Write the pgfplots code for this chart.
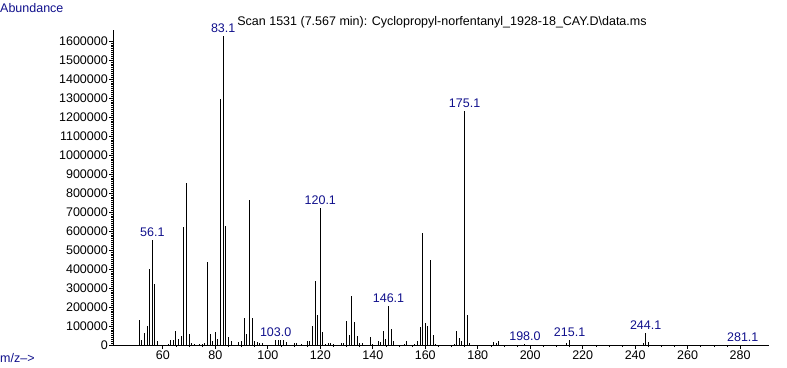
\documentclass[border=0pt]{standalone}
\usepackage{fontspec}
\setmainfont{Liberation Sans}
\usepackage{pgfplots}
\pgfplotsset{compat=1.18}
\definecolor{msnavy}{RGB}{16,16,140}
\begin{document}
\begin{tikzpicture}
\begin{axis}[
  at={(113pt,22pt)}, anchor=south west,
  scale only axis, width=656pt, height=315pt,
  xmin=41, xmax=291, ymin=0, ymax=1658000,
  axis lines=left,
  axis line style={-, line width=0.8pt},
  xtick={60,80,...,280}, minor x tick num=3,
  ytick={0,100000,...,1600000}, minor y tick num=9,
  tick align=outside,
  major tick length=4pt, minor tick length=2pt,
  tick style={black, line width=0.8pt},
  minor tick style={line width=0.6pt},
  scaled y ticks=false,
  /pgf/number format/assume math mode=true,
  yticklabel style={/pgf/number format/fixed, /pgf/number format/1000 sep={}, inner xsep=1pt},
  xticklabel style={/pgf/number format/1000 sep={}, inner ysep=1.5pt},
  tick label style={font=\fontsize{12.5}{14}\selectfont},
  clip=false,
]
\addplot[ycomb, black, line width=1pt, mark=none] coordinates {
(51,131000) (52,26000) (53,65000) (54,100000) (55,402000) (56,553000) (57,321000) (58,23000)
(62,5000) (63,26000) (64,26000) (65,74000) (66,32000) (67,50000) (68,621000) (69,853000)
(70,58000) (71,10000) (72,5000) (74,5000) (75,5000) (76,12000) (77,437000) (78,58000)
(79,23000) (80,68000) (81,32000) (82,1295000) (83,1626000) (84,626000) (85,42000) (86,21000)
(89,16000) (90,23000) (91,142000) (92,58000) (93,763000) (94,142000) (95,23000) (96,16000)
(97,10000) (98,8000) (103,25000) (104,28000) (105,25000) (106,25000) (107,15000)
(110,8000) (111,10000) (113,5000) (115,20000) (116,20000) (117,102000) (118,337000)
(119,160000) (120,721000) (121,70000) (122,6000) (123,8000) (124,10000) (125,5000)
(128,10000) (129,10000) (130,126000) (131,53000) (132,260000) (133,121000) (134,49000)
(135,12000) (136,8000) (139,42000) (140,5000) (142,20000) (143,16000) (144,74000)
(145,30000) (146,207000) (147,84000) (148,20000) (152,5000) (153,20000) (156,5000)
(157,22000) (158,96000) (159,589000) (160,117000) (161,102000) (162,447000) (163,53000)
(164,3000) (171,5000) (172,75000) (173,37000) (174,22000) (175,1233000) (176,158000)
(177,12000) (186,16000) (187,8000) (188,20000) (198,3000) (214,8000) (215,26000)
(243,8000) (244,65000) (245,14000) (281,2000)
};
\begin{scope}[every node/.style={anchor=base, yshift=3.5pt, inner sep=0pt, text=msnavy, font=\fontsize{12.5}{14}\selectfont}]
\node at (axis cs:56,553000) {56.1};
\node at (axis cs:83,1626000) {83.1};
\node at (axis cs:103,25000) {103.0};
\node at (axis cs:120,721000) {120.1};
\node at (axis cs:146,207000) {146.1};
\node at (axis cs:175,1233000) {175.1};
\node at (axis cs:198,3000) {198.0};
\node at (axis cs:215,26000) {215.1};
\node at (axis cs:244,65000) {244.1};
\node at (axis cs:281,2000) {281.1};
\end{scope}
\end{axis}
\node[anchor=base, inner sep=0pt, font=\fontsize{12.5}{14}\selectfont] at (442pt,341pt) {Scan 1531 (7.567 min): Cyclopropyl-norfentanyl\_1928-18\_CAY.D\textbackslash data.ms};
\node[anchor=base west, inner sep=0pt, text=msnavy, font=\fontsize{12.5}{14}\selectfont] at (0pt,354pt) {Abundance};
\node[anchor=base west, inner sep=0pt, text=msnavy, font=\fontsize{12.5}{14}\selectfont] at (0pt,5pt) {m/z-->};
\pgfresetboundingbox
\useasboundingbox (0,0) rectangle (787pt,367pt);
\end{tikzpicture}
\end{document}
